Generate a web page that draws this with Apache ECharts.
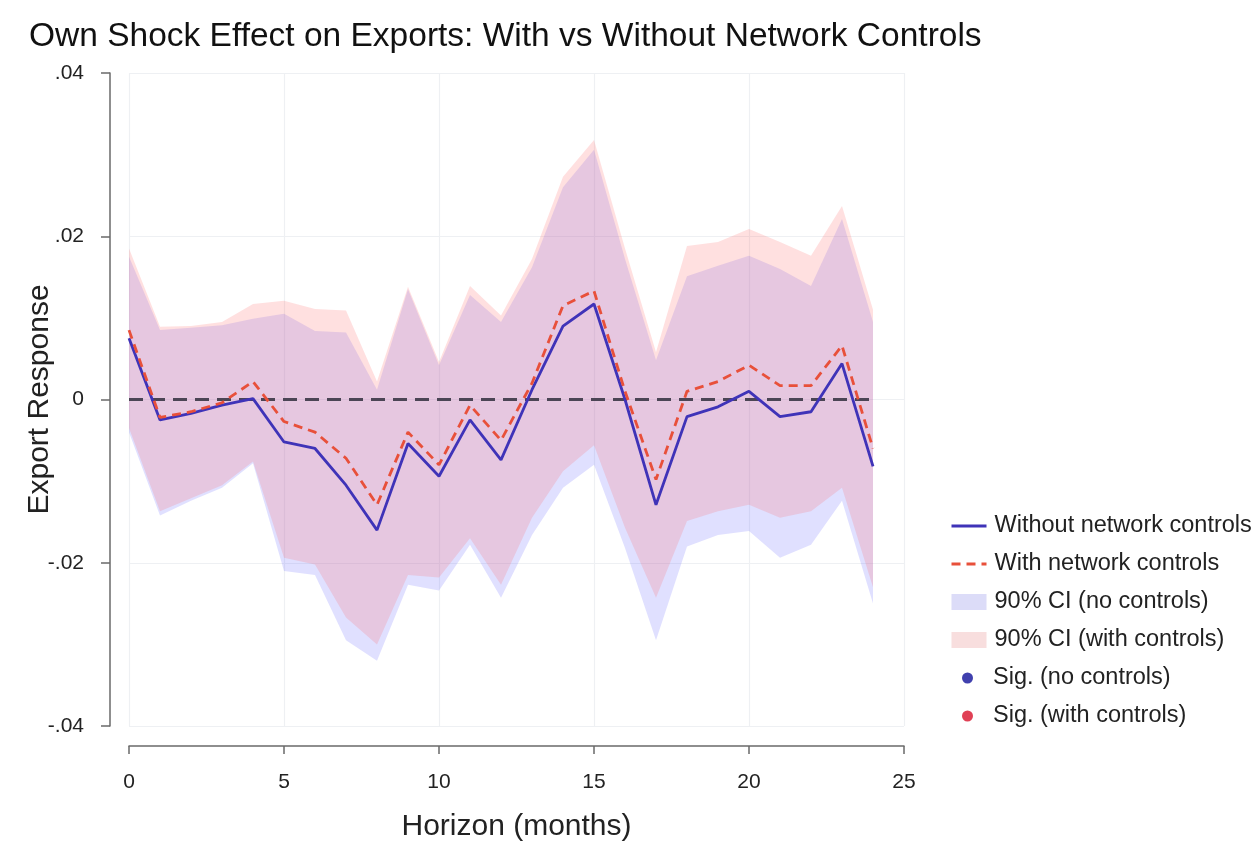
<!DOCTYPE html>
<html>
<head>
<meta charset="utf-8">
<script src="https://cdn.jsdelivr.net/npm/echarts@6/dist/echarts.min.js"></script>
<style>
html,body{margin:0;padding:0;background:#fff;}
#chart{width:1257px;height:847px;}
</style>
</head>
<body>
<div id="chart"></div>
<script>
// ---- data ----
const horizons = [0,1,2,3,4,5,6,7,8,9,10,11,12,13,14,15,16,17,18,19,20,21,22,23,24];
const noCtrlCoef  = [0.0075,-0.0025,-0.0017,-0.0007,0.0001,-0.0052,-0.0060,-0.0105,-0.0160,-0.0054,-0.0094,-0.0025,-0.0074,0.0012,0.0090,0.0117,0.0000,-0.0129,-0.0021,-0.0009,0.0010,-0.0021,-0.0015,0.0044,-0.0082];
const ctrlCoef    = [0.0085,-0.0022,-0.0015,-0.0004,0.0022,-0.0027,-0.0040,-0.0072,-0.0129,-0.0040,-0.0080,-0.0007,-0.0050,0.0020,0.0115,0.0133,0.0010,-0.0098,0.0010,0.0022,0.0042,0.0017,0.0017,0.0066,-0.0060];
const noCtrlUpper = [0.0175,0.0085,0.0088,0.0091,0.0099,0.0105,0.0084,0.0082,0.0012,0.0135,0.0042,0.0128,0.0095,0.0162,0.0260,0.0306,0.0172,0.0048,0.0151,0.0164,0.0176,0.0160,0.0139,0.0221,0.0095];
const noCtrlLower = [-0.0040,-0.0142,-0.0124,-0.0108,-0.0078,-0.0210,-0.0215,-0.0295,-0.0320,-0.0227,-0.0234,-0.0178,-0.0243,-0.0166,-0.0108,-0.0080,-0.0182,-0.0295,-0.0180,-0.0166,-0.0161,-0.0194,-0.0178,-0.0124,-0.0250];
const ctrlUpper   = [0.0185,0.0089,0.0090,0.0095,0.0117,0.0121,0.0111,0.0109,0.0022,0.0138,0.0046,0.0139,0.0103,0.0172,0.0273,0.0318,0.0185,0.0058,0.0188,0.0193,0.0209,0.0193,0.0176,0.0237,0.0110];
const ctrlLower   = [-0.0035,-0.0137,-0.0121,-0.0105,-0.0076,-0.0194,-0.0202,-0.0267,-0.0300,-0.0215,-0.0218,-0.0170,-0.0227,-0.0145,-0.0088,-0.0056,-0.0157,-0.0243,-0.0149,-0.0137,-0.0129,-0.0145,-0.0137,-0.0108,-0.0230];
const sigNoCtrl = [];   // no significant points visible
const sigCtrl = [];
const xTicks = [0,5,10,15,20,25];
const yTicks = [-0.04,-0.02,0,0.02,0.04];

const titleText = 'Own Shock Effect on Exports: With vs Without Network Controls';
const xTitle = 'Horizon (months)';
const yTitle = 'Export Response';
const names = ['Without network controls','With network controls','90% CI (no controls)','90% CI (with controls)','Sig. (no controls)','Sig. (with controls)'];

const pairs = arr => horizons.map((h,i)=>[h, arr[i]]);
const fmtY = v => { const r = Math.round(v*100)/100; if (r===0) return '0'; return (r<0?'-':'') + Math.abs(r).toFixed(2).replace(/^0/,''); };

// band polygon drawn through the chart's own coordinate system
function bandRenderer(upper, lower, fill){
  return function(params, api){
    if (params.dataIndex !== 0) return null;
    const pts = [];
    horizons.forEach((h,i)=>pts.push(api.coord([h, upper[i]])));
    for (let i = horizons.length-1; i >= 0; i--) pts.push(api.coord([horizons[i], lower[i]]));
    return {type:'polygon', shape:{points:pts}, style:{fill:fill}, silent:true};
  };
}

const FONT = 'Liberation Sans, Arial, Helvetica, sans-serif';
const chart = echarts.init(document.getElementById('chart'), null, {renderer:'canvas'});

chart.setOption({
  backgroundColor:'#ffffff',
  animation:false,
  textStyle:{fontFamily:FONT},
  title:{text:titleText, left:24, top:15, textStyle:{fontFamily:FONT, fontSize:33.5, fontWeight:'normal', color:'#111'}},
  grid:{left:129, right:353, top:73, bottom:118, containLabel:false},
  xAxis:{
    type:'value', min:0, max:25, interval:5,
    offset:20,
    axisLine:{show:true, onZero:false, lineStyle:{color:'#6a6a6a', width:1.5}},
    axisTick:{show:true, length:8, lineStyle:{color:'#6a6a6a', width:1.5}},
    axisLabel:{fontSize:21, color:'#222', margin:26, fontFamily:FONT},
    splitLine:{show:true, lineStyle:{color:'#eef0f3', width:1.2}},
    name:xTitle, nameLocation:'middle', nameGap:66, nameMoveOverlap:false,
    nameTextStyle:{fontSize:30, color:'#222', fontFamily:FONT}
  },
  yAxis:{
    type:'value', min:-0.04, max:0.04, interval:0.02,
    offset:19,
    axisLine:{show:true, onZero:false, lineStyle:{color:'#6a6a6a', width:1.5}},
    axisTick:{show:true, length:9, lineStyle:{color:'#6a6a6a', width:1.5}},
    axisLabel:{fontSize:21, color:'#222', margin:26, fontFamily:FONT, formatter:fmtY},
    splitLine:{show:true, lineStyle:{color:'#eef0f3', width:1.2}},
    name:yTitle, nameLocation:'middle', nameGap:55, nameRotate:90, nameMoveOverlap:false,
    nameTextStyle:{fontSize:30, color:'#222', fontFamily:FONT}
  },
  legend:[{
    orient:'vertical', left:945, top:509, itemWidth:35, itemHeight:16, itemGap:14,
    textStyle:{fontSize:23.5, lineHeight:24, color:'#222', fontFamily:FONT, padding:[0,0,0,3]},
    data:[
      {name:names[0], itemStyle:{opacity:0}, lineStyle:{width:3}},
      {name:names[1], itemStyle:{opacity:0}, lineStyle:{width:3}},
      {name:names[2], icon:'rect', itemStyle:{color:'#dcdcf8'}},
      {name:names[3], icon:'rect', itemStyle:{color:'#f8dede'}}
    ]
  },{
    orient:'vertical', left:957, top:661, itemWidth:11, itemHeight:11, itemGap:14,
    textStyle:{fontSize:23.5, lineHeight:24, color:'#222', fontFamily:FONT, padding:[0,0,0,15]},
    data:[{name:names[4], icon:'circle'},{name:names[5], icon:'circle'}]
  }],
  series:[
    {name:names[2], type:'custom', data:[[0,0]], renderItem:bandRenderer(noCtrlUpper, noCtrlLower, 'rgba(100,100,255,0.2)'), itemStyle:{color:'#dcdcf8'}, clip:true, z:1, silent:true},
    {name:names[3], type:'custom', data:[[0,0]], renderItem:bandRenderer(ctrlUpper, ctrlLower, 'rgba(255,100,100,0.2)'), itemStyle:{color:'#f8dede'}, clip:true, z:2, silent:true},
    {name:'zero', type:'line', data:horizons.map(h=>[h,0]), symbol:'none', lineStyle:{color:'#4b4555', width:3, type:[14,8]}, silent:true, z:3},
    {name:names[0], type:'line', data:pairs(noCtrlCoef), symbol:'none', lineStyle:{color:'#3f33b8', width:2.8}, itemStyle:{color:'#3f33b8'}, z:4},
    {name:names[1], type:'line', data:pairs(ctrlCoef), symbol:'none', lineStyle:{color:'#e8503a', width:2.8, type:[9,6]}, itemStyle:{color:'#e8503a'}, z:5},
    {name:names[4], type:'scatter', data:sigNoCtrl, symbolSize:10, itemStyle:{color:'#10109a'}, z:6},
    {name:names[5], type:'scatter', data:sigCtrl, symbolSize:10, itemStyle:{color:'#d8102a'}, z:6}
  ]
});
</script>
</body>
</html>
